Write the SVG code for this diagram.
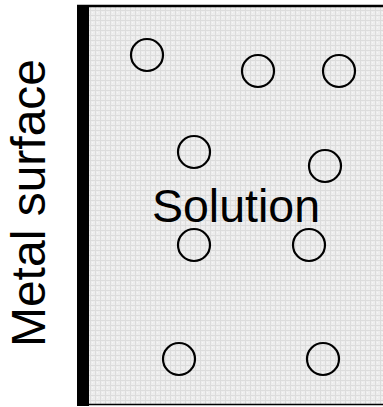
<svg xmlns="http://www.w3.org/2000/svg" width="383" height="407" viewBox="0 0 383 407">
<style>
.ion{fill:none;stroke:#000;stroke-width:2.2}
.lbl{font-family:"Liberation Sans",Arial,sans-serif;fill:#000}
</style>
<defs>
<pattern id="grid" width="5" height="5" patternUnits="userSpaceOnUse">
<rect width="5" height="5" fill="#ededed"/>
<rect x="0" y="0" width="5" height="1" fill="#dcdcdc"/>
<rect x="0" y="0" width="1" height="5" fill="#dcdcdc"/>
<rect x="2" y="2" width="1" height="1" fill="#f7f7f7"/>
</pattern>
</defs>
<g id="solution-box">
<rect x="88" y="6" width="295" height="399" fill="url(#grid)"/>
<line x1="77" y1="6" x2="383" y2="6" stroke="#000" stroke-width="2.5"/>
<line x1="77" y1="404.5" x2="383" y2="404.5" stroke="#000" stroke-width="1.5"/>
</g>
<g id="metal-surface">
<rect x="77" y="5" width="12" height="401" fill="#000"/>
<text class="lbl" font-size="48" text-anchor="middle" transform="translate(45,203) rotate(-90)">Metal surface</text>
</g>
<g id="ions">
<circle class="ion" cx="147" cy="55" r="16"/>
<circle class="ion" cx="258" cy="71" r="16"/>
<circle class="ion" cx="339" cy="71" r="16"/>
<circle class="ion" cx="194" cy="152" r="16"/>
<circle class="ion" cx="325" cy="166" r="16"/>
<circle class="ion" cx="194" cy="245" r="16"/>
<circle class="ion" cx="309" cy="245" r="16"/>
<circle class="ion" cx="179" cy="359" r="16"/>
<circle class="ion" cx="323" cy="359" r="16"/>
</g>
<g id="solution-label">
<text class="lbl" x="236" y="222" font-size="46.5" text-anchor="middle">Solution</text>
</g>
<g id="connectors"></g>
</svg>
